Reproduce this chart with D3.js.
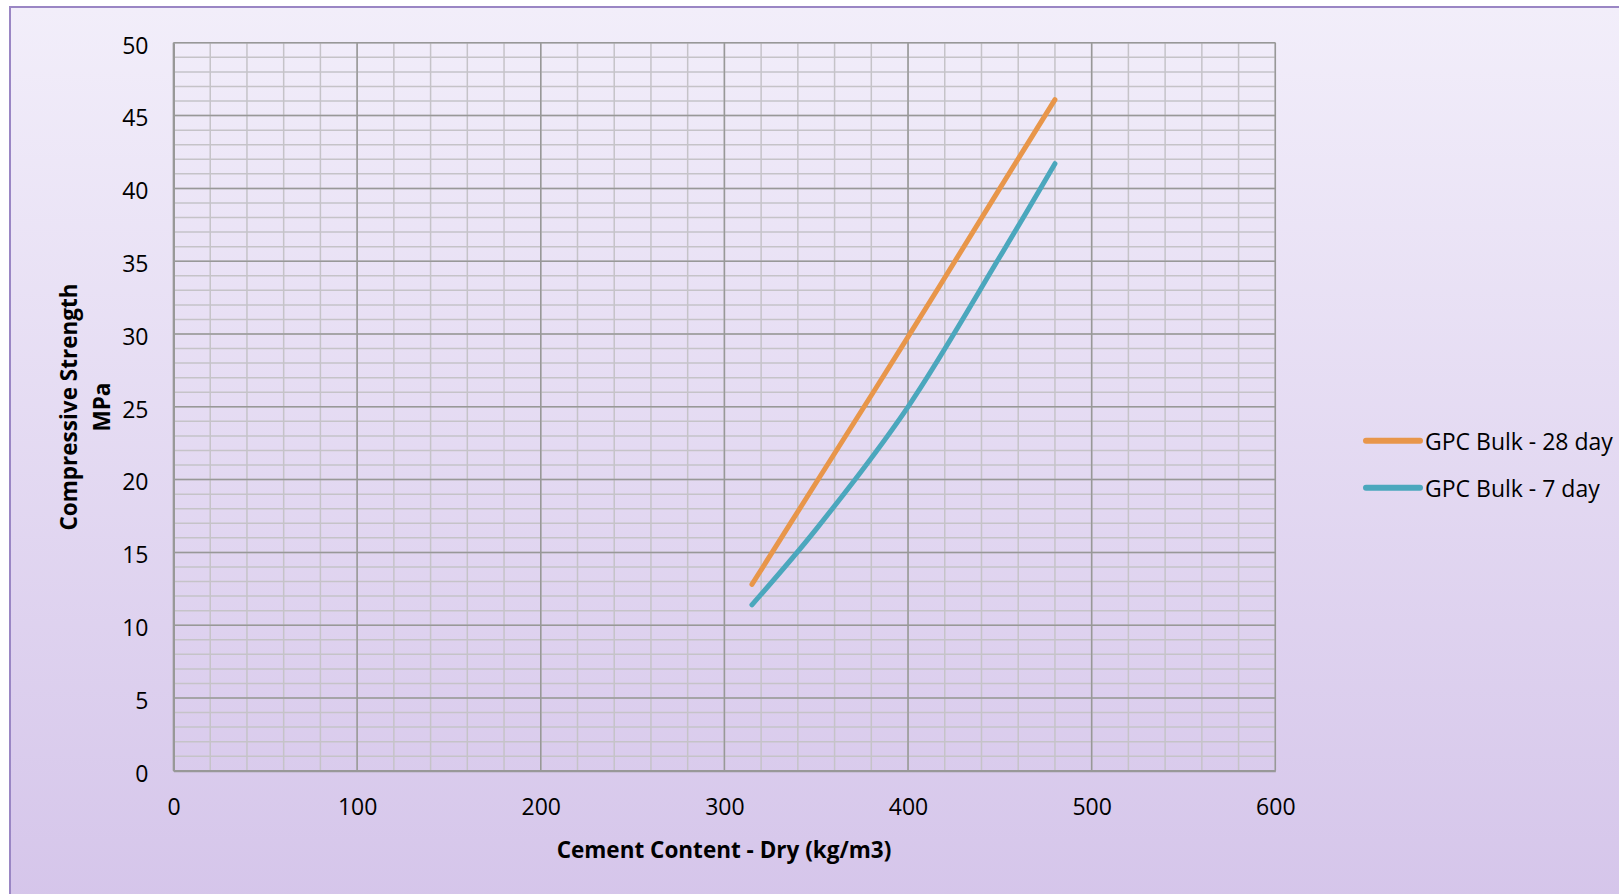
<!DOCTYPE html>
<html><head><meta charset="utf-8">
<script src="https://cdn.jsdelivr.net/npm/d3@7"></script>
<style>body{margin:0;background:#fff;}svg{display:block;}</style>
</head><body>
<svg id="c" width="1619" height="894"></svg>
<script>
const cementContent = [315, 350, 400, 450, 480];
const strength28 = [12.8, 19.8, 29.8, 40.0, 46.1];
const strength7 = [11.4, 16.6, 25.0, 35.3, 41.7];
const xTicks = [0, 100, 200, 300, 400, 500, 600];
const yTicks = [0, 5, 10, 15, 20, 25, 30, 35, 40, 45, 50];
const seriesNames = ["GPC Bulk - 28 day", "GPC Bulk - 7 day"];
const seriesColors = ["#E8964A", "#4BA7BD"];

const svg = d3.select("#c");
const defs = svg.append("defs");
const grad = defs.append("linearGradient").attr("id","bg").attr("x1",0).attr("y1",0).attr("x2",0).attr("y2",1);
grad.append("stop").attr("offset","0%").attr("stop-color","#f2eefa");
grad.append("stop").attr("offset","100%").attr("stop-color","#d5c5ea");

svg.append("rect").attr("x",10).attr("y",7).attr("width",1620).attr("height",900)
  .attr("fill","url(#bg)").attr("stroke","#9a86c4").attr("stroke-width",2);

const L=173.5, R=1275.3, T=42.8, B=770.8;
const x = d3.scaleLinear().domain([0,600]).range([L,R]);
const y = d3.scaleLinear().domain([0,50]).range([B,T]);

const g = svg.append("g");
g.selectAll(".vmin").data(d3.range(0,601,20)).enter().append("line")
  .attr("x1",d=>x(d)).attr("x2",d=>x(d)).attr("y1",T).attr("y2",B)
  .attr("stroke","#c5c3c8").attr("stroke-width",1.5);
g.selectAll(".hmin").data(d3.range(0,51,1)).enter().append("line")
  .attr("y1",d=>y(d)).attr("y2",d=>y(d)).attr("x1",L).attr("x2",R)
  .attr("stroke","#c5c3c8").attr("stroke-width",1.5);
g.selectAll(".vmaj").data(xTicks).enter().append("line")
  .attr("x1",d=>x(d)).attr("x2",d=>x(d)).attr("y1",T).attr("y2",B)
  .attr("stroke","#989898").attr("stroke-width",1.5);
g.selectAll(".hmaj").data(yTicks).enter().append("line")
  .attr("y1",d=>y(d)).attr("y2",d=>y(d)).attr("x1",L).attr("x2",R)
  .attr("stroke","#989898").attr("stroke-width",1.5);

const xAxis = d3.axisBottom(x).tickValues(xTicks).tickSize(0).tickPadding(28);
const yAxis = d3.axisLeft(y).tickValues(yTicks).tickSize(0).tickPadding(25);
const ax = svg.append("g").attr("transform",`translate(0,${B})`).call(xAxis);
const ay = svg.append("g").attr("transform",`translate(${L},0)`).call(yAxis);
[ax,ay].forEach(a=>{
  a.select(".domain").attr("stroke","#989898").attr("stroke-width",2);
  a.selectAll("text").attr("font-family","'Open Sans'").attr("font-size",23).attr("fill","#000");
});
ax.selectAll("text").attr("dy","0.71em");
ay.selectAll("text").attr("dy","0.45em");

const line = d3.line().x(d=>x(d[0])).y(d=>y(d[1])).curve(d3.curveCatmullRom.alpha(0.5));
[strength28, strength7].forEach((s,i)=>{
  svg.append("path").datum(cementContent.map((c,j)=>[c,s[j]]))
    .attr("d",line).attr("fill","none").attr("stroke",seriesColors[i])
    .attr("stroke-width",5).attr("stroke-linecap","round");
});

svg.append("text").attr("x",724).attr("y",849).attr("text-anchor","middle").attr("dominant-baseline","central")
  .attr("font-family","'Open Sans'").attr("font-weight","bold").attr("font-size",22.5)
  .text("Cement Content - Dry (kg/m3)");
const yt = svg.append("text").attr("transform","translate(68,407) rotate(-90)").attr("text-anchor","middle")
  .attr("font-family","'Open Sans'").attr("font-weight","bold").attr("font-size",22.5).attr("dominant-baseline","central");
yt.append("tspan").attr("x",0).attr("dy",0).text("Compressive Strength");
yt.append("tspan").attr("x",0).attr("dy",33).text("MPa");

const lg = svg.append("g");
seriesNames.forEach((n,i)=>{
  const ly = 440.7 + i*47;
  lg.append("line").attr("x1",1366).attr("x2",1420).attr("y1",ly).attr("y2",ly)
    .attr("stroke",seriesColors[i]).attr("stroke-width",6).attr("stroke-linecap","round");
  lg.append("text").attr("x",1425).attr("y",ly).attr("dominant-baseline","central")
    .attr("font-family","'Open Sans'").attr("font-size",23).text(n);
});
</script>
</body></html>
